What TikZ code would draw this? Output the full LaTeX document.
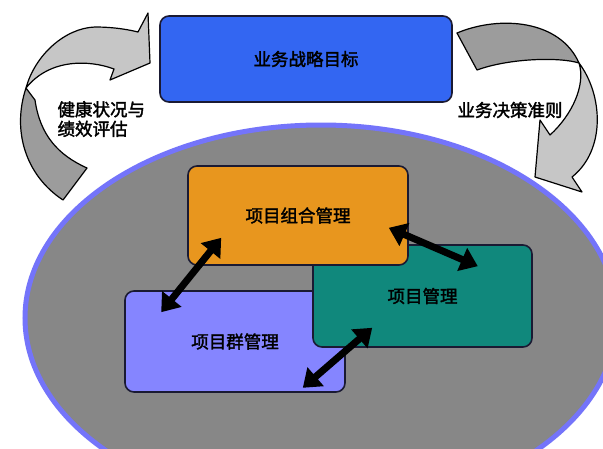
\documentclass[tikz,border=0pt]{standalone}
\usepackage{fontspec}
\newfontfamily\cjk[FakeBold=2]{Noto Sans CJK SC}
\usetikzlibrary{arrows.meta,calc}
\definecolor{topblue}{HTML}{3366F2}
\definecolor{portorange}{HTML}{E8961E}
\definecolor{projteal}{HTML}{10887C}
\definecolor{progviolet}{HTML}{8585FF}
\definecolor{ellgray}{HTML}{878787}
\definecolor{ellrim}{HTML}{7474FA}
\definecolor{arrowdark}{HTML}{9C9C9C}
\definecolor{arrowlight}{HTML}{C6C6C6}
\definecolor{boxrim}{HTML}{1A1A33}
\begin{document}
\begin{tikzpicture}[x=1pt,y=-1pt,
  box/.style={draw=boxrim, line width=1.6pt, rounded corners=9pt, inner sep=0pt},
  lbl/.style={font=\cjk\fontsize{17.5}{20}\selectfont, text=black},
  dbl/.style={line width=7pt, {Triangle[length=17pt,width=24pt]}-{Triangle[length=17pt,width=24pt]}},
  carrow/.style={draw=black, line width=1.2pt, line join=round}]
\useasboundingbox (0,0) rectangle (603,448);
\fill[white] (0,0) rectangle (603,448);
\begin{scope}
\clip (0,0) rectangle (603,448);
\filldraw[fill=ellgray, draw=ellrim, line width=5pt] (321,318) ellipse [x radius=296pt, y radius=193pt];
\end{scope}
% left curved arrow
\filldraw[carrow, fill=arrowdark] (26,88) -- (35,100) .. controls (40,135) and (58,155) .. (87,168) -- (63,200) .. controls (25,175) and (12,130) .. (26,88) -- cycle;
\filldraw[carrow, fill=arrowlight] (26,88) .. controls (35,55) and (65,28) .. (95,27) .. controls (115,27) and (130,30) .. (138,32) -- (148,13) -- (150,63) -- (110,80) -- (114,69) .. controls (90,60) and (50,58) .. (26,88) -- cycle;
% right curved arrow
\filldraw[carrow, fill=arrowdark] (457,33) .. controls (500,15) and (560,20) .. (579,63) .. controls (560,57) and (510,58) .. (477,70) -- cycle;
\filldraw[carrow, fill=arrowlight] (579,63) .. controls (603,95) and (606,150) .. (572,177) -- (582,192) -- (535,177) -- (540,120) -- (550,135) .. controls (572,115) and (586,85) .. (579,63) -- cycle;
% boxes
\node[box, fill=topblue, minimum width=292pt, minimum height=86pt, lbl] (goal) at (306,59) {业务战略目标};
\node[box, fill=progviolet, minimum width=220pt, minimum height=101pt, lbl] (prog) at (235,341.5) {项目群管理};
\node[box, fill=projteal, minimum width=219pt, minimum height=102pt, lbl] (proj) at (422.5,296) {项目管理};
\node[box, fill=portorange, minimum width=220pt, minimum height=99pt, lbl] (port) at (298,215.5) {项目组合管理};
% double arrows
\draw[dbl] ($(port.south west)+(34,-28)$) -- ($(prog.north west)+(37,22)$);
\draw[dbl] ($(port.south east)+(-20,-38)$) -- ($(proj.north east)+(-55,22)$);
\draw[dbl] ($(proj.south west)+(60,-20)$) -- ($(prog.south east)+(-43,-5)$);
% labels
\node[lbl, align=left, anchor=west, font=\cjk\fontsize{17.5}{19.5}\selectfont] (health) at (54,119) {健康状况与\\绩效评估};
\node[lbl] (rule) at (510,110) {业务决策准则};
\end{tikzpicture}
\end{document}
